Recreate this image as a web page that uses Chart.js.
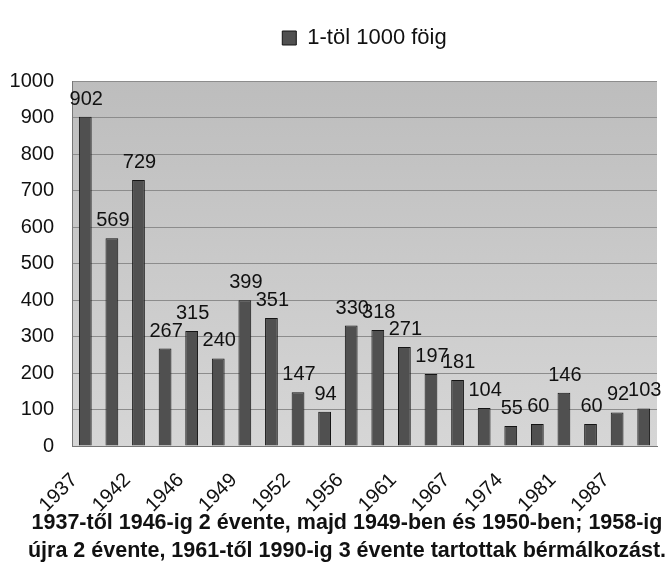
<!DOCTYPE html>
<html>
<head>
<meta charset="utf-8">
<script src="https://cdn.jsdelivr.net/npm/chart.js@4"></script>
<style>
  html, body { margin: 0; padding: 0; background: #fff; }
  #wrap { width: 670px; height: 578px; position: relative; }
  #c { display: block; position: absolute; left: 0; top: 0; }
  .caption {
    position: absolute; left: 12px; width: 670px; top: 508px;
    text-align: center; font: bold 21.5px "Liberation Sans", Arial, sans-serif;
    color: #111; line-height: 28px; white-space: nowrap;
  }
</style>
</head>
<body>
<div id="wrap">
  <canvas id="c" width="670" height="527"></canvas>
  <div class="caption">1937-től 1946-ig 2 évente, majd 1949-ben és 1950-ben; 1958-ig<br>újra 2 évente, 1961-től 1990-ig 3 évente tartottak bérmálkozást.</div>
</div>
<script>
  // years (only every other one is labelled on the axis)
  const years = ["1937", "1940", "1942", "1944", "1946", "1948", "1949", "1950", "1952", "1954", "1956",
                 "1958", "1961", "1964", "1967", "1970", "1974", "1977", "1981", "1984", "1987", "1990"];
  const counts = [902, 569, 729, 267, 315, 240, 399, 351, 147, 94, 330,
                  318, 271, 197, 181, 104, 55, 60, 146, 60, 92, 103];
  const yTicks = [0, 100, 200, 300, 400, 500, 600, 700, 800, 900, 1000];
  const seriesName = "1-töl 1000 föig";

  const FONT = "'Liberation Sans', Arial, sans-serif";

  const plotBg = {
    id: "plotBg",
    beforeDraw(chart) {
      const { ctx, chartArea: a } = chart;
      const g = ctx.createLinearGradient(0, a.top, 0, a.bottom);
      g.addColorStop(0, "#bdbdbd");
      g.addColorStop(1, "#d6d6d6");
      ctx.save();
      ctx.fillStyle = g;
      ctx.fillRect(a.left, a.top, a.right - a.left, a.bottom - a.top);
      ctx.restore();
    }
  };

  // extra room under the legend, and centre it over the plot area
  const legendGap = {
    id: "legendGap",
    beforeUpdate(chart) {
      const lg = chart.legend;
      if (!lg || lg._gapped) return;
      const fit = lg.fit;
      lg.fit = function () { fit.call(this); this.height += 22; };
      lg._gapped = true;
    },
    afterLayout(chart) {
      const lg = chart.legend;
      if (!lg) return;
      lg.left = chart.chartArea.left;
      lg.right = chart.chartArea.right;
    }
  };

  // rotated year labels, every second category, hung below the axis
  const yearLabels = {
    id: "yearLabels",
    afterDraw(chart) {
      const { ctx } = chart;
      const xs = chart.scales.x;
      ctx.save();
      ctx.font = "20px " + FONT;
      ctx.fillStyle = "#111";
      ctx.textAlign = "right";
      ctx.textBaseline = "top";
      years.forEach((yr, i) => {
        if (i % 2) return;
        ctx.save();
        ctx.translate(xs.getPixelForTick(i) - 18, xs.top + 24);
        ctx.rotate(-Math.PI / 4);
        ctx.fillText(yr, 0, 0);
        ctx.restore();
      });
      ctx.restore();
    }
  };

  const valueLabels = {
    id: "valueLabels",
    afterDatasetsDraw(chart) {
      const { ctx } = chart;
      const meta = chart.getDatasetMeta(0);
      ctx.save();
      ctx.font = "20px " + FONT;
      ctx.fillStyle = "#111";
      ctx.textAlign = "center";
      ctx.textBaseline = "alphabetic";
      meta.data.forEach((bar, i) => {
        ctx.fillText(String(counts[i]), bar.x + 1, bar.y - 12);
      });
      ctx.restore();
    }
  };

  new Chart(document.getElementById("c"), {
    type: "bar",
    data: {
      labels: years,
      datasets: [{
        label: seriesName,
        data: counts,
        backgroundColor: "#505050",
        borderColor: "#141414",
        borderWidth: 1,
        barPercentage: 0.48,
        categoryPercentage: 1
      }]
    },
    options: {
      responsive: false,
      animation: false,
      layout: { padding: { left: 10, right: 13, top: 15, bottom: 81 } },
      plugins: {
        legend: {
          position: "top",
          labels: {
            color: "#111",
            font: { family: FONT, size: 22 },
            boxWidth: 14, boxHeight: 14,
            padding: 12
          }
        },
        tooltip: { enabled: false }
      },
      scales: {
        x: {
          grid: { display: false, drawTicks: false },
          border: { color: "#777" },
          ticks: { display: false }
        },
        y: {
          min: 0, max: 1000,
          afterBuildTicks: axis => { axis.ticks = yTicks.map(v => ({ value: v })); },
          afterFit: s => { s.width = 62; },
          grid: { color: "#8c8c8c", drawTicks: false },
          border: { color: "#777" },
          ticks: {
            color: "#111",
            font: { family: FONT, size: 20 },
            padding: 18,
            callback: v => String(v)
          }
        }
      }
    },
    plugins: [plotBg, legendGap, yearLabels, valueLabels]
  });
</script>
</body>
</html>
